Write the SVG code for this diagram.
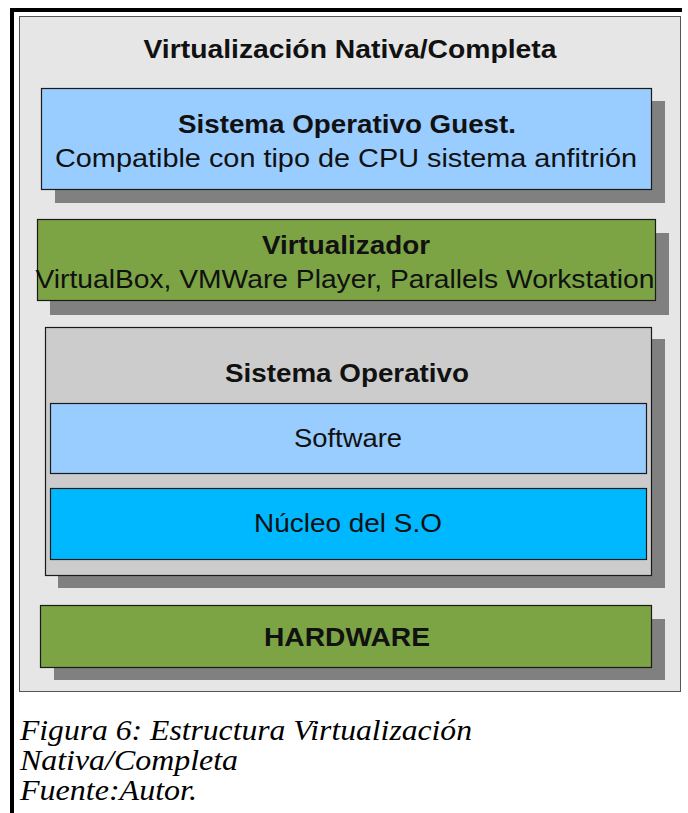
<svg xmlns="http://www.w3.org/2000/svg" width="688" height="813" viewBox="0 0 688 813">
  <style>
    .frame { fill: #000000; }
    .panel { fill: #e6e6e6; stroke: #555555; stroke-width: 1; }
    .shadow { fill: #808080; }
    .box { stroke: #1a1a1a; stroke-width: 1.2; }
    .blue { fill: #99ccff; }
    .green { fill: #7ca445; }
    .grey { fill: #cccccc; }
    .kernel { fill: #00b8ff; }
    .t { font-family: "Liberation Sans", Arial, sans-serif; font-size: 26px; fill: #111111; text-anchor: middle; }
    .b { font-weight: bold; }
    .cap { font-family: "Liberation Serif", "Times New Roman", serif; font-style: italic; font-size: 30px; fill: #000000; }
  </style>

  <rect width="688" height="813" fill="#ffffff"/>

  <!-- page frame -->
  <rect class="frame" x="10" y="8" width="672" height="4"/>
  <rect class="frame" x="10" y="8" width="4" height="805"/>

  <!-- outer panel -->
  <g id="panel">
    <rect class="panel" x="19.5" y="16.5" width="661" height="675"/>
    <text class="t b" x="350" y="58" textLength="413" lengthAdjust="spacingAndGlyphs">Virtualización Nativa/Completa</text>
  </g>

  <!-- guest operating system -->
  <g id="guest-os">
    <rect class="shadow" x="55" y="101" width="610" height="102"/>
    <rect class="box blue" x="41.5" y="88.5" width="610" height="101"/>
    <text class="t b" x="347" y="133" textLength="338" lengthAdjust="spacingAndGlyphs">Sistema Operativo Guest.</text>
    <text class="t" x="346" y="167" textLength="582" lengthAdjust="spacingAndGlyphs">Compatible con tipo de CPU sistema anfitrión</text>
  </g>

  <!-- hypervisor layer -->
  <g id="virtualizador">
    <rect class="shadow" x="50" y="233" width="619" height="82"/>
    <rect class="box green" x="37.5" y="219.5" width="618" height="81"/>
    <text class="t b" x="346" y="254" textLength="168" lengthAdjust="spacingAndGlyphs">Virtualizador</text>
    <text class="t" x="345" y="288" textLength="619" lengthAdjust="spacingAndGlyphs">VirtualBox, VMWare Player, Parallels Workstation</text>
  </g>

  <!-- host operating system -->
  <g id="host-os">
    <rect class="shadow" x="58" y="339" width="607" height="249"/>
    <rect class="box grey" x="45.5" y="327.5" width="606" height="248"/>
    <text class="t b" x="347" y="382" textLength="244" lengthAdjust="spacingAndGlyphs">Sistema Operativo</text>
  </g>

  <g id="software">
    <rect class="box blue" x="50.5" y="403.5" width="596" height="70"/>
    <text class="t" x="348" y="447" textLength="108" lengthAdjust="spacingAndGlyphs">Software</text>
  </g>

  <g id="nucleo">
    <rect class="box kernel" x="50.5" y="488.5" width="596" height="71"/>
    <text class="t" x="348" y="532" textLength="188" lengthAdjust="spacingAndGlyphs">Núcleo del S.O</text>
  </g>

  <!-- physical layer -->
  <g id="hardware">
    <rect class="shadow" x="54" y="619" width="611" height="61"/>
    <rect class="box green" x="40.5" y="605.5" width="611" height="62"/>
    <text class="t b" x="347" y="646" textLength="166" lengthAdjust="spacingAndGlyphs">HARDWARE</text>
  </g>

  <!-- caption -->
  <g id="caption">
    <text class="cap" x="20" y="740" textLength="452" lengthAdjust="spacingAndGlyphs">Figura 6: Estructura Virtualización</text>
    <text class="cap" x="20" y="770" textLength="218" lengthAdjust="spacingAndGlyphs">Nativa/Completa</text>
    <text class="cap" x="20" y="800" textLength="177" lengthAdjust="spacingAndGlyphs">Fuente:Autor.</text>
  </g>
</svg>
